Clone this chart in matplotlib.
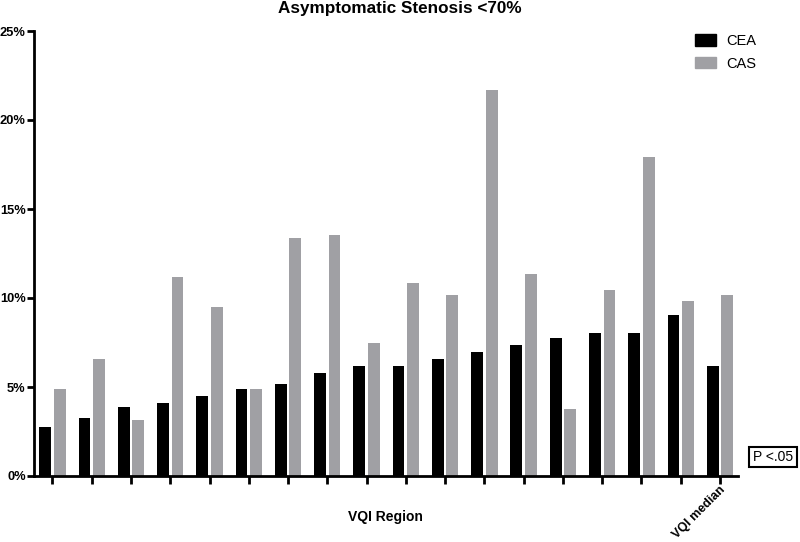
import matplotlib
matplotlib.use("Agg")
import matplotlib.pyplot as plt
import numpy as np
from matplotlib.patches import Patch

plt.rcParams['font.family'] = ['Liberation Sans', 'DejaVu Sans']

title = "Asymptomatic Stenosis <70%"
series_names = ["CEA", "CAS"]
cea = [2.77, 3.28, 3.86, 4.08, 4.48, 4.87, 5.17, 5.77, 6.18, 6.18, 6.59, 6.98, 7.38, 7.77, 8.05, 8.05, 9.06, 6.18]
cas = [4.87, 6.55, 3.16, 11.16, 9.48, 4.87, 13.35, 13.54, 7.49, 10.86, 10.15, 21.7, 11.35, 3.76, 10.45, 17.94, 9.85, 10.15]
x_labels = [""] * 17 + ["VQI median"]
y_ticks = [0, 5, 10, 15, 20, 25]
y_tick_labels = ["0%", "5%", "10%", "15%", "20%", "25%"]
x_title = "VQI Region"
note = "P <.05"

black = "#000000"
grey = "#a0a0a4"

fig = plt.figure(figsize=(8, 5.42), dpi=100)
ax = fig.add_axes([34/800, 1-476/542, (738-34)/800, (476-31)/542])

x = np.arange(len(cea))
w = 0.30
off = 0.185
ax.bar(x - off, cea, width=w, color=black, label=series_names[0])
ax.bar(x + off, cas, width=w, color=grey, label=series_names[1])

ax.set_xlim(-0.47, len(cea) - 1 + 0.46)
ax.set_ylim(0, 25)
ax.set_yticks(y_ticks)
ax.set_yticklabels(y_tick_labels, fontweight='bold', fontsize=9.3)
ax.set_xticks(x)
ax.set_xticklabels([])
for s in ['top', 'right']:
    ax.spines[s].set_visible(False)
for s in ['left', 'bottom']:
    ax.spines[s].set_linewidth(2)
ax.tick_params(axis='y', direction='out', length=5, width=2, pad=1)
ax.tick_params(axis='x', direction='out', length=6, width=2)

# rotated last label
ax.text(x[-1] - 0.02, -0.45, x_labels[-1], rotation=45, ha='right', va='top',
        rotation_mode='anchor', fontsize=9, fontweight='bold', transform=ax.transData)

fig.text(400/800, 1-9/542, title, ha='center', va='center', fontsize=12.3, fontweight='bold')
fig.text(385/800, 1-517/542, x_title, ha='center', va='center', fontsize=10, fontweight='bold')
fig.text(773/800, 1-457/542, note, ha='center', va='center', fontsize=10,
         bbox=dict(boxstyle='square,pad=0.25', fc='white', ec='black', lw=1.5))

handles = [Patch(color=black), Patch(color=grey)]
leg = fig.legend(handles, series_names, loc='upper left', bbox_to_anchor=(692/800, 1-31/542),
                 frameon=False, fontsize=10.5, handlelength=1.45, handleheight=0.85,
                 labelspacing=0.6, handletextpad=0.7, borderaxespad=0, borderpad=0.2)

fig.savefig("out.png", dpi=100)
